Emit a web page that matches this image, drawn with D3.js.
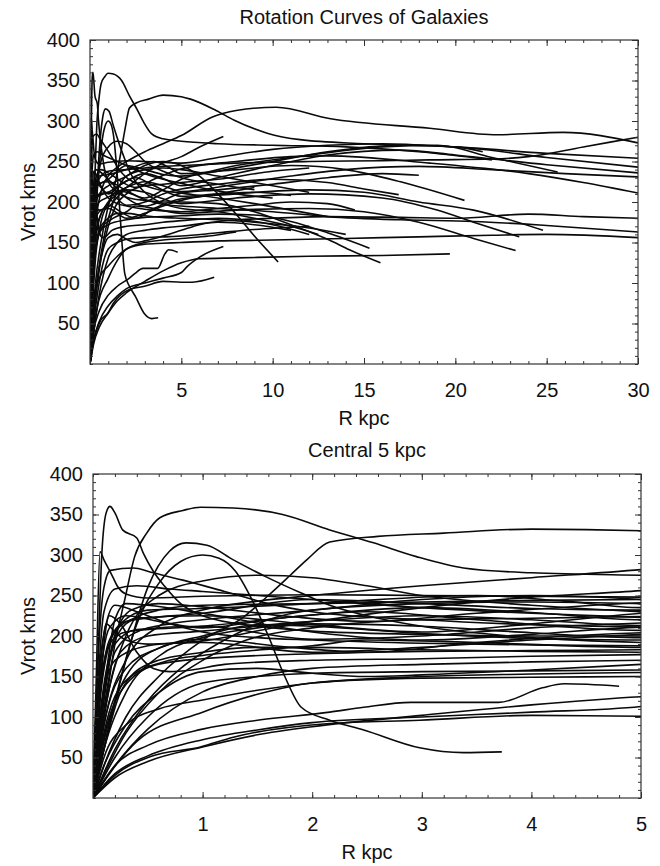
<!DOCTYPE html>
<html>
<head>
<meta charset="utf-8">
<script src="https://cdnjs.cloudflare.com/ajax/libs/d3/7.8.5/d3.min.js"></script>
<style>
  body { margin: 0; background: #fff; }
  text { font-family: "Liberation Sans", Arial, Helvetica, sans-serif; fill: #111; }
  .curve { fill: none; stroke: #0a0a0a; stroke-width: 1.6; }
  .tick line { stroke: #333; }
</style>
</head>
<body>
<div id="chart"></div>
<script>
// rotation curves, [R kpc, Vrot km/s]
var g01 = [[0,0],[0.04,150],[0.08,300],[0.12,352],[0.155,360],[0.2,352],[0.27,331],[0.4,321],[0.46,302],[0.55,280],[0.65,262],[0.8,240],[1,225],[1.5,212],[2,206],[3,202],[4,200],[5,200],[7,198],[9,188],[11,172],[13.1,153],[14.2,141],[15.9,125]];
var g02 = [[0,0],[0.03,150],[0.064,304],[0.1,294],[0.18,273],[0.22,262],[0.3,252],[0.5,247],[1,249],[2,251],[3,250],[4,249],[5,248],[7,255],[10,265],[13,270],[16,272],[20,268],[25,260],[30,254]];
var g03 = [[0,0],[0.1,90],[0.3,170],[0.6,212],[1,232],[1.5,243],[2,250],[3,262],[4,272],[5,282],[6.7,305],[8,313],[10.2,317],[13.1,303],[18.6,291],[22.3,283],[25.9,286],[30,273]];
var g04 = [[0,0],[0.05,80],[0.15,170],[0.3,215],[0.6,232],[1,238],[2,240],[3,242],[4,244],[5,245],[8,248],[12,250],[16,251],[18.6,252],[22,253],[24,256],[27,268],[30,280]];
var g05 = [[0,0],[0.1,120],[0.2,200],[0.35,232],[0.6,240],[1,236],[1.8,224],[2.5,218],[3.5,228],[5,241],[8,250],[11,256],[13,257],[18.6,248],[24,235],[27,224],[30,211]];
var g06 = [[0,0],[0.08,140],[0.2,205],[0.4,222],[1,225],[2,214],[3,205],[4,215],[5,228],[7,238],[10,250],[13,262],[17,270],[21,266],[25,255],[30,243]];
var g07 = [[0,0],[0.05,110],[0.15,190],[0.3,205],[1,212],[2,226],[3,235],[4,229],[5,220],[7,230],[10,245],[13,258],[17,264],[20,258],[25,246],[30,236]];
var g08 = [[0,0],[0.1,100],[0.25,180],[0.5,200],[1,206],[2,218],[3,225],[4,220],[5,213],[8,222],[11,232],[14,240],[18,244],[22,240],[26,235],[30,231]];
var g09 = [[0,0],[0.2,40],[0.5,85],[1,131],[1.5,150],[2,160],[3,165],[4,168],[5,170],[7,176],[10,180],[13,182],[17,181],[20,180],[24,185],[27,182],[30,180]];
var g10 = [[0,0],[0.1,90],[0.3,160],[0.6,185],[1,200],[1.5,214],[2,212],[3,203],[4,197],[5,195],[7,192],[10,188],[13,182],[17,178],[21,176],[25,171],[30,163]];
var g11 = [[0,0],[0.15,30],[0.4,70],[1,106],[1.5,128],[2,142],[3,148],[4,149],[5,150],[7,152],[10,153],[14,155],[18,157],[22,159],[25,160],[30,156]];
var g12 = [[0,0],[0.06,120],[0.15,195],[0.3,218],[1,228],[2,245],[3,240],[4,234],[5,232],[8,245],[12,258],[16,268],[19,270],[22,255],[25.6,237]];
var g13 = [[0,0],[0.1,70],[0.3,150],[0.6,185],[1,196],[1.8,186],[2.5,180],[3.5,192],[5,204],[8,210],[12,215],[15,212],[18,200],[21,190],[24.8,165]];
var g14 = [[0,0],[0.05,90],[0.2,170],[0.5,188],[1,194],[2,215],[3,212],[4,204],[5,198],[8,205],[12,210],[16,205],[19,190],[21,175],[23.5,157]];
var g15 = [[0,0],[0.1,80],[0.3,145],[0.7,170],[1,176],[2,188],[2.5,195],[3.5,192],[5,186],[8,190],[12,192],[15,188],[18,175],[21,155],[23.3,140]];
var g16 = [[0,0],[0.1,130],[0.25,215],[0.5,232],[1,234],[2,240],[3.5,250],[4.3,243],[5,235],[8,240],[11,245],[14,240],[17,225],[20.5,202]];
var g17 = [[0,0],[0.2,25],[0.5,45],[1,63],[1.5,78],[2,88],[3,102],[4,115],[5,125],[6,130],[8,131],[12,133],[16,134],[19.7,136]];
var g18 = [[0,0],[0.08,120],[0.2,190],[0.4,208],[1,212],[2,196],[3,200],[4,210],[5,216],[7,222],[10,228],[13,224],[15,216],[16.9,209]];
var g19 = [[0,0],[0.1,75],[0.3,140],[0.6,165],[1,172],[2,178],[3,181],[4,182],[5,183],[7,185],[9,184],[11,176],[13,162],[15.3,143]];
var g20 = [[0,0],[0.1,110],[0.2,180],[0.4,205],[0.7,215],[1,220],[2,232],[3,245],[4,250],[5,245],[6,232],[7,210],[8,185],[9,158],[10.3,126]];
var g21 = [[0,0],[0.1,60],[0.3,130],[0.6,175],[1,198],[1.5,210],[2,218],[3,235],[4,248],[5,256],[6,268],[7.3,281]];
var g22 = [[0,0],[0.2,30],[0.5,52],[1,72],[1.5,84],[2,93],[3,100],[4,106],[5,113],[5.3,120],[6,132],[7.3,145]];
var g23 = [[0,0],[0.2,28],[0.52,51],[0.98,63],[1.28,75],[2.16,92],[2.98,96],[4,102],[5,101],[5.6,101],[6.8,107]];
var g24 = [[0,0],[0.2,40],[0.5,65],[1,85],[1.5,96],[2.16,106],[2.47,112],[2.9,118],[3.7,118],[4.1,136],[4.3,141],[4.8,138]];
var g25 = [[0,0],[0.2,120],[0.4,215],[0.6,265],[0.8,292],[1,300],[1.15,296],[1.3,280],[1.45,245],[1.6,200],[1.75,150],[1.9,112],[2.16,96],[2.47,84],[2.98,62],[3.38,56],[3.73,57]];
var g26 = [[0,0],[0.1,40],[0.3,100],[0.6,150],[1,195],[1.37,223],[1.6,250],[1.8,275],[1.95,294],[2.16,316],[2.6,323],[3.2,327],[4,332],[5,330],[5.5,327],[6.9,313],[7.9,301],[9.7,285],[11.5,277],[15,272],[20,268],[21.5,262]];
var g27 = [[0,0],[0.1,100],[0.2,190],[0.29,245],[0.38,298],[0.49,327],[0.61,346],[0.82,355],[0.98,359],[1.28,358],[1.73,350],[2.16,331],[2.56,315],[2.95,298],[3.38,284],[4,278],[5,275],[7,272],[10,270],[14,268],[18,262],[22,252]];
var g28 = [[0,0],[0.1,60],[0.3,170],[0.5,260],[0.7,305],[0.85,315],[1.04,312],[1.28,294],[1.58,273],[1.9,253],[2.16,238],[2.6,222],[3,212],[4,198],[5,192],[7,188],[9,180],[11,170],[12.5,160]];
var g29 = [[0,0],[0.05,180],[0.1,260],[0.16,281],[0.37,284],[0.52,279],[0.82,269],[1.2,255],[1.6,240],[2,230],[3,220],[4,214],[5,211],[7,205],[9,198],[11,190],[13,182]];
var g30 = [[0,0],[0.05,140],[0.12,215],[0.2,238],[0.4,230],[0.7,215],[1,205],[1.5,198],[2,195],[3,191],[4,189],[5,188],[7,192],[9,196],[11,200],[13,198],[14.5,190]];
var g31 = [[0,0],[0.1,60],[0.25,130],[0.5,165],[1,180],[1.5,186],[2,186],[3,183],[4,181],[5,180],[7,178],[9,175],[12,168],[14,160]];
var g32 = [[0,0],[0.05,100],[0.1,190],[0.15,225],[0.25,215],[0.4,180],[0.55,160],[0.7,156],[0.9,158],[1.2,165],[2,170],[3,172],[4,175],[5,177],[7,180],[10,172],[12,160]];
var g33 = [[0,0],[0.1,40],[0.3,90],[0.6,130],[1,156],[1.5,160],[2,154],[2.5,150],[3,152],[4,158],[5,165],[6,172],[7,175],[9,172],[11,165]];
var g34 = [[0,0],[0.2,50],[0.5,100],[1,142],[1.5,150],[2,154],[3,156],[4,157],[5,158],[7,162],[9,166],[12,170]];
var g35 = [[0,0],[0.1,50],[0.3,90],[0.6,110],[1,121],[1.5,133],[2,142],[3,150],[4,153],[5,155],[6.5,158],[8,163]];
var g36 = [[0,0],[0.1,100],[0.3,200],[0.6,250],[1,268],[1.5,275],[2,272],[2.5,262],[3,250],[4,238],[5,230],[7,222],[9,215]];
var g37 = [[0,0],[0.05,150],[0.1,230],[0.2,258],[0.4,262],[0.7,258],[1,255],[1.5,250],[2,245],[3,235],[4,228],[5,223],[6,218],[8,210],[10,205]];
var g38 = [[0,0],[0.2,60],[0.5,120],[0.8,160],[1.2,195],[1.6,220],[2,232],[3,240],[4,242],[5,240],[7,232],[10,220],[12,212]];
var g39 = [[0,0],[0.05,120],[0.15,210],[0.3,225],[0.6,218],[1,210],[1.7,222],[2.5,230],[3.5,220],[5,207],[7,210],[9,212],[11,208]];
var g40 = [[0,0],[0.1,130],[0.2,220],[0.3,240],[0.5,238],[1,228],[2,205],[3,195],[4,202],[5,211],[7,215],[10,222],[13,230],[16,235],[18,233]];
var g41 = [[0,0],[0.3,80],[0.6,130],[1,170],[1.4,195],[2,210],[3,220],[4,222],[5,224],[7,228],[10,238],[12,242]];
var g42 = [[0,0],[0.04,100],[0.08,180],[0.12,215],[0.2,205],[0.3,195],[0.5,190],[1,192],[2,180],[3,186],[4,195],[5,202],[7,210],[9,218]];

var galaxies = [g01,g02,g03,g04,g05,g06,g07,g08,g09,g10,g11,g12,g13,g14,g15,g16,g17,g18,g19,g20,
  g21,g22,g23,g24,g25,g26,g27,g28,g29,g30,g31,g32,g33,g34,g35,g36,g37,g38,g39,g40,g41,g42];

var vTicks = [50,100,150,200,250,300,350,400];
var rTicksOuter = [5,10,15,20,25,30];
var rTicksInner = [1,2,3,4,5];

var svg = d3.select("#chart").append("svg")
  .attr("width", 660)
  .attr("height", 866);

// one panel = frame, inward ticks, clipped curves, labels
function drawPanel(opt) {
  var w = 548, h = 324;
  var x = d3.scaleLinear().domain([0, opt.rMax]).range([0, w]);
  var y = d3.scaleLinear().domain([0, 400]).range([h, 0]);

  var g = svg.append("g").attr("transform", `translate(${opt.left}, ${opt.top})`);

  g.append("clipPath").attr("id", opt.id)
    .append("rect").attr("width", w).attr("height", h);

  var line = d3.line()
    .x(d => x(d[0]))
    .y(d => y(d[1]))
    .curve(d3.curveMonotoneX);

  g.append("g").attr("clip-path", `url(#${opt.id})`)
    .selectAll("path")
    .data(galaxies)
    .enter().append("path")
    .attr("class", "curve")
    .attr("d", line);

  var rMinor = d3.range(0, opt.rMax + 1e-9, opt.rStep);
  var vMinor = d3.range(0, 401, 10);

  // minor ticks
  g.append("g").attr("transform", `translate(0, ${h})`)
    .call(d3.axisBottom(x).tickValues(rMinor).tickSize(-3).tickSizeOuter(0).tickFormat(""));
  g.append("g")
    .call(d3.axisTop(x).tickValues(rMinor).tickSize(-3).tickSizeOuter(0).tickFormat(""));
  g.append("g")
    .call(d3.axisLeft(y).tickValues(vMinor).tickSize(-3).tickSizeOuter(0).tickFormat(""));
  g.append("g").attr("transform", `translate(${w}, 0)`)
    .call(d3.axisRight(y).tickValues(vMinor).tickSize(-3).tickSizeOuter(0).tickFormat(""));

  // major ticks with labels
  g.append("g").attr("transform", `translate(0, ${h})`)
    .call(d3.axisBottom(x).tickValues(opt.rTicks).tickSize(-6).tickSizeOuter(0).tickPadding(19).tickFormat(d3.format("d")));
  g.append("g")
    .call(d3.axisTop(x).tickValues(opt.rTicks).tickSize(-6).tickSizeOuter(0).tickFormat(""));
  g.append("g")
    .call(d3.axisLeft(y).tickValues(vTicks).tickSize(-6).tickSizeOuter(0).tickPadding(10));
  g.append("g").attr("transform", `translate(${w}, 0)`)
    .call(d3.axisRight(y).tickValues(vTicks).tickSize(-6).tickSizeOuter(0).tickFormat(""));

  g.selectAll(".domain").remove();
  g.selectAll(".tick text")
    .style("font-size", "20px")
    .style("font-family", "'Liberation Sans', Arial, sans-serif")
    .attr("fill", "#111");

  g.append("rect")
    .attr("width", w).attr("height", h)
    .attr("fill", "none")
    .attr("stroke", "#333")
    .attr("stroke-width", 1.2);

  g.append("text")
    .attr("x", w / 2).attr("y", opt.titleY - opt.top)
    .attr("text-anchor", "middle")
    .style("font-size", "20px")
    .text(opt.title);

  g.append("text")
    .attr("x", w / 2).attr("y", h + 61)
    .attr("text-anchor", "middle")
    .style("font-size", "20px")
    .text("R kpc");

  g.append("text")
    .attr("transform", "rotate(-90)")
    .attr("x", -h / 2).attr("y", 35 - opt.left)
    .attr("text-anchor", "middle")
    .style("font-size", "20px")
    .text("Vrot kms");
}

drawPanel({ id: "clipTop", left: 90, top: 40, rMax: 30, rStep: 1, rTicks: rTicksOuter,
  title: "Rotation Curves of Galaxies", titleY: 24 });
drawPanel({ id: "clipBottom", left: 93, top: 474, rMax: 5, rStep: 0.2, rTicks: rTicksInner,
  title: "Central 5 kpc", titleY: 457 });
</script>
</body>
</html>
